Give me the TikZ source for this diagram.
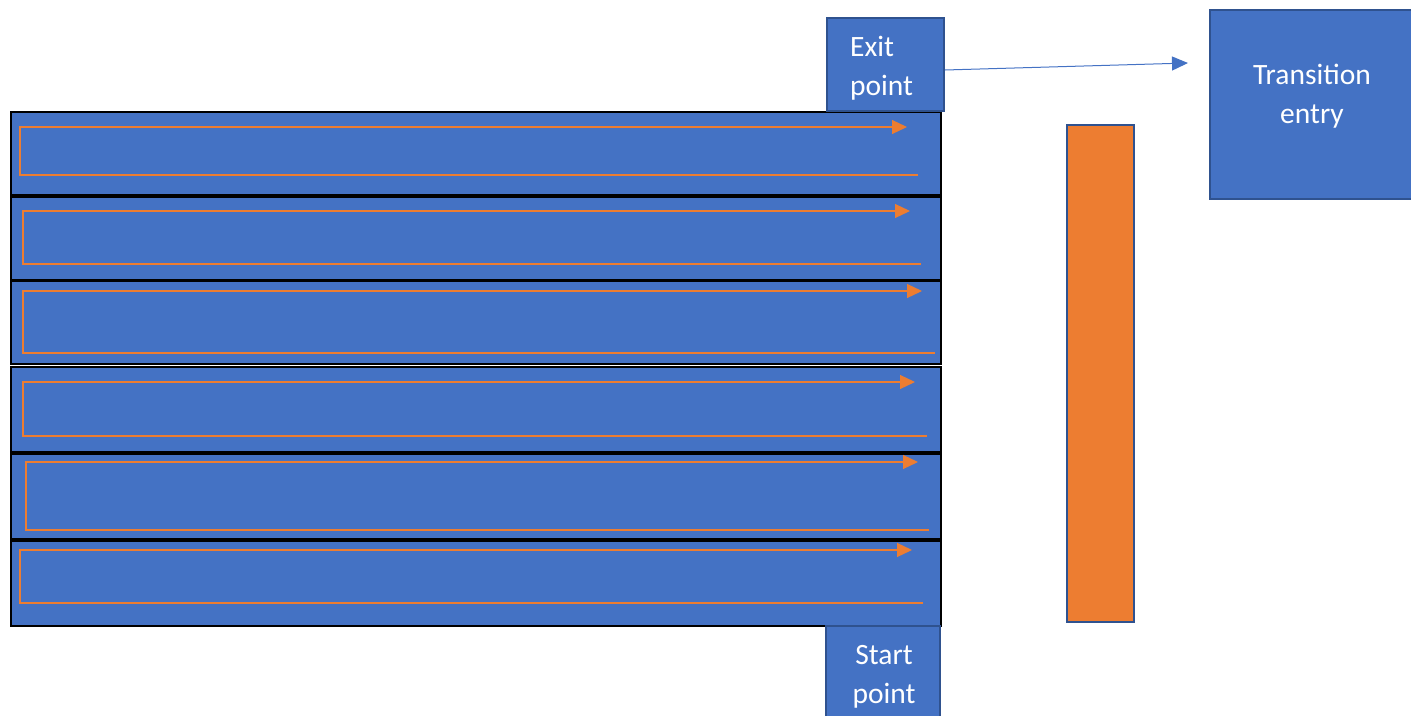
\documentclass[tikz,border=0pt]{standalone}
\usepackage{fontspec}
\setmainfont{Carlito}
\usetikzlibrary{arrows.meta}
\definecolor{fillblue}{HTML}{4472C4}
\definecolor{edgeblue}{HTML}{2F528F}
\definecolor{orng}{HTML}{ED7D31}
\tikzset{
  rowbox/.style={draw=black, line width=2.4pt, fill=fillblue},
  bluebox/.style={draw=edgeblue, line width=2pt, fill=fillblue, text=white,
    inner sep=0pt},
  boxtext/.style={text=white, font=\fontsize{29.5}{38.5}\selectfont, inner sep=0pt},
  lane/.style={draw=orng, line width=1.2pt, -{Triangle[length=15pt,width=14pt]}},
  link/.style={draw=fillblue, line width=1pt, -{Triangle[length=16pt,width=14pt]}}
}
\begin{document}
\begin{tikzpicture}[x=1pt,y=-1pt]
\useasboundingbox (0,0) rectangle (1411,715);
\begin{scope}
\clip (0,0) rectangle (1411,715);
% rows
\node[rowbox, anchor=north west, minimum width=930pt, minimum height=83pt, inner sep=0pt] (r1) at (10,111) {};
\node[rowbox, anchor=north west, minimum width=930pt, minimum height=83pt, inner sep=0pt] (r2) at (10,196) {};
\node[rowbox, anchor=north west, minimum width=930pt, minimum height=83pt, inner sep=0pt] (r3) at (10,280) {};
\node[rowbox, anchor=north west, minimum width=930pt, minimum height=85pt, inner sep=0pt] (r4) at (10,366) {};
\node[rowbox, anchor=north west, minimum width=930pt, minimum height=85pt, inner sep=0pt] (r5) at (10,453) {};
\node[rowbox, anchor=north west, minimum width=930pt, minimum height=85pt, inner sep=0pt] (r6) at (10,540) {};
% orange lanes
\draw[lane] (918,175) -- (20,175) -- (20,127) -- (907,127);
\draw[lane] (921,264) -- (23,264) -- (23,211) -- (910,211);
\draw[lane] (935,353) -- (23,353) -- (23,291) -- (922,291);
\draw[lane] (927,436) -- (23,436) -- (23,382) -- (915,382);
\draw[lane] (929,530) -- (26,530) -- (26,462) -- (918,462);
\draw[lane] (923,603) -- (20,603) -- (20,550) -- (912,550);
% exit point
\node[bluebox, anchor=north west, minimum width=117pt, minimum height=93pt] (exit) at (826,17) {};
\node[boxtext, align=left, anchor=west] (exittxt) at (850,68) {Exit\\point};
% start point
\node[bluebox, anchor=north west, minimum width=114pt, minimum height=100pt] (start) at (825,625) {};
\node[boxtext, align=center] (starttxt) at (884,677) {Start\\point};
% transition entry
\node[bluebox, anchor=north west, minimum width=210pt, minimum height=189pt] (trans) at (1209,9) {};
\node[boxtext, align=center] (transtxt) at (1312,96) {Transition\\entry};
% orange bar
\node[draw=edgeblue, line width=2pt, fill=orng, anchor=north west, minimum width=67pt, minimum height=497pt, inner sep=0pt] (bar) at (1066,124) {};
% link
\coordinate (tip) at (1188,63);
\draw[link] ([yshift=-5.5pt]exit.east) -- (tip);
\end{scope}
\end{tikzpicture}
\end{document}
